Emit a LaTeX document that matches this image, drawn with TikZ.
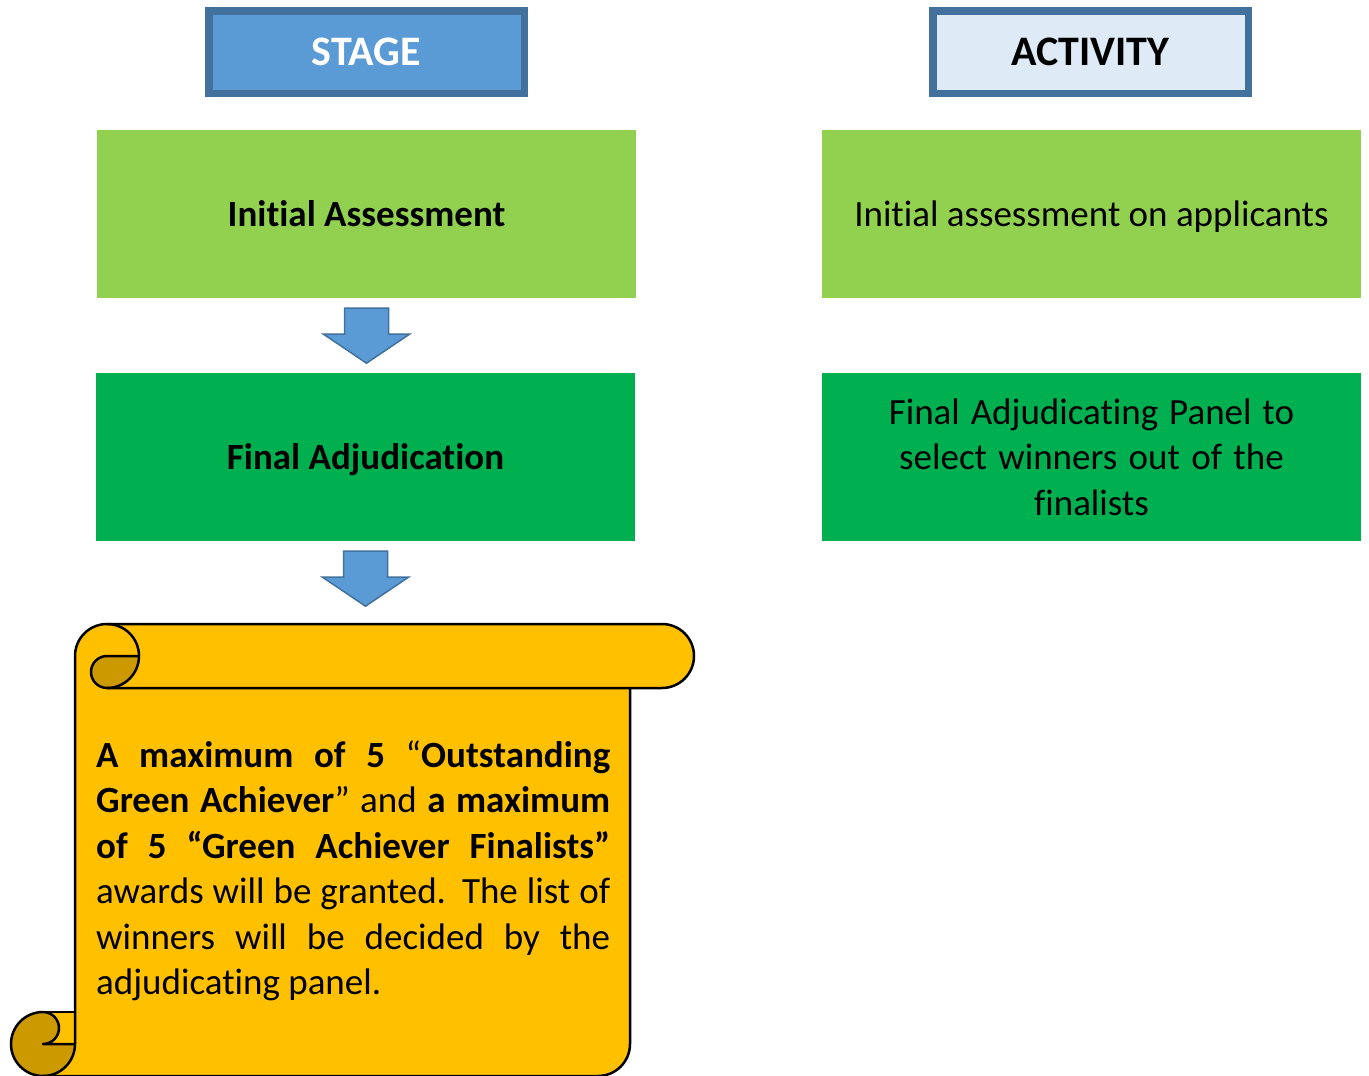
\documentclass[tikz,border=0pt]{standalone}
\usepackage{fontspec}
\setmainfont{Carlito}[Ligatures={NoCommon}]
\usetikzlibrary{calc}
\definecolor{lgreen}{HTML}{92D050}
\definecolor{dgreen}{HTML}{00B050}
\definecolor{hblue}{HTML}{5B9BD5}
\definecolor{hborder}{HTML}{41719C}
\definecolor{hlight}{HTML}{DEEBF7}
\definecolor{gold}{HTML}{FFC000}
\definecolor{darkgold}{HTML}{CC9A00}
\newcommand\blkarrow[1]{%
  \draw[blockarrow] ($(#1)+(-22,10)$) -- ($(#1)+(22,10)$) -- ($(#1)+(22,36)$) -- ($(#1)+(43,36)$)
    -- ($(#1)+(0,65)$) -- ($(#1)+(-43,36)$) -- ($(#1)+(-22,36)$) -- cycle;}
\newcommand\jline[1]{\leavevmode\hbox to 514pt{\frenchspacing\spaceskip=3pt plus 1fil\relax #1}}
\begin{document}
\begin{tikzpicture}[x=1pt,y=-1pt,
  hdr/.style={draw=hborder, line width=7.5pt, minimum width=315.5pt, minimum height=82.5pt,
    inner sep=0pt, text depth=0pt, font=\bfseries\fontsize{42}{50}\selectfont},
  box/.style={minimum width=539pt, minimum height=168pt, inner sep=0pt,
    font=\fontsize{37}{45.5}\selectfont},
  oneline/.style={text depth=0pt},
  blockarrow/.style={fill=hblue, draw=hborder, line width=1.5pt, line join=miter},
  scrollline/.style={draw=black, line width=2.5pt, line join=round},
]
\fill[white] (0,0) rectangle (1369,1076);
\useasboundingbox (0,0) rectangle (1369,1076);

% headers
\node[hdr, fill=hblue, text=white] (stage) at (366.5,52) {STAGE};
\node[hdr, fill=hlight, text=black] (activity) at (1090.5,52) {ACTIVITY};

% stage boxes
\node[box, oneline, fill=lgreen] (ia) at (366.5,214) {\bfseries Initial Assessment};
\node[box, oneline, fill=dgreen] (fa) at (365.5,457) {\bfseries Final Adjudication};

% activity boxes
\node[box, oneline, fill=lgreen] (iaa) at (1091.5,214) {Initial assessment on applicants};
\node[box, fill=dgreen, text width=530pt, align=center] (faa) at (1091.5,457)
  {\spaceskip=8.4pt plus 3pt minus 2pt\relax Final Adjudicating Panel to\\select winners out of the\\finalists};

% arrows
\blkarrow{ia.south}
\blkarrow{fa.south}

% scroll
\fill[gold] (75,656) arc[start angle=180,end angle=270,radius=32] -- (662,624)
  arc[start angle=-90,end angle=90,radius=32] -- (630,688) -- (630,1044)
  arc[start angle=0,end angle=90,radius=32] -- (43,1076)
  arc[start angle=90,end angle=270,radius=32] -- (75,1012) -- cycle;
\filldraw[fill=darkgold, scrollline] (139,656) arc[start angle=0,end angle=90,radius=32]
  arc[start angle=90,end angle=270,radius=16] -- cycle;
\filldraw[fill=darkgold, scrollline] (43,1076) arc[start angle=90,end angle=270,radius=32]
  arc[start angle=-90,end angle=90,radius=16] -- (75,1044)
  arc[start angle=0,end angle=90,radius=32] -- cycle;
\draw[scrollline] (75,1044) -- (75,656) arc[start angle=180,end angle=270,radius=32] -- (662,624)
  arc[start angle=-90,end angle=90,radius=32] -- (107,688);
\draw[scrollline] (107,624) arc[start angle=-90,end angle=0,radius=32];
\draw[scrollline] (630,688) -- (630,1044) arc[start angle=0,end angle=90,radius=32] -- (43,1076);
\draw[scrollline] (43,1012) -- (75,1012);

\node[anchor=base west, inner sep=0pt, text width=514pt, align=left,
  font=\fontsize{37}{45.5}\selectfont] (award) at (96,767) {%
\jline{\textbf{A maximum of 5} “\textbf{Outstanding}}\\
\jline{\textbf{Green Achiever}” and \textbf{a maximum}}\\
\jline{\textbf{of 5 “Green Achiever Finalists”}}\\
\jline{awards will be granted.\hspace{7pt} The list of}\\
\jline{winners will be decided by the}\\
\leavevmode\hbox{\spaceskip=8.4pt\relax adjudicating panel.}};
\end{tikzpicture}
\end{document}
